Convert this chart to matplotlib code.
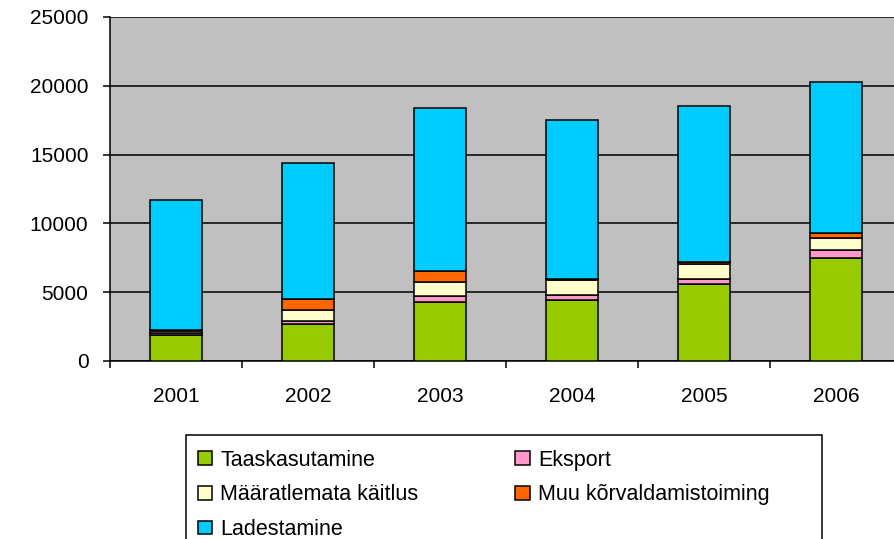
import numpy as np
import matplotlib
matplotlib.use("Agg")
import matplotlib.pyplot as plt
from matplotlib.patches import Patch, Rectangle

plt.rcParams['font.family'] = ['Liberation Sans', 'DejaVu Sans']

years = ['2001', '2002', '2003', '2004', '2005', '2006']
series_names = ['Taaskasutamine', 'Eksport', 'Määratlemata käitlus',
                'Muu kõrvaldamistoiming', 'Ladestamine']
taaskasutamine = [1870, 2680, 4260, 4430, 5580, 7470]
eksport = [200, 240, 440, 390, 410, 590]
maaratlemata = [80, 780, 1040, 1070, 1070, 870]
muu = [100, 780, 780, 50, 140, 340]
ladestamine = [9450, 9900, 11880, 11560, 11350, 11030]
colors = ['#99CC00', '#FF99CC', '#FFFFCC', '#FF6600', '#00CCFF']

W, H = 895, 539
fig = plt.figure(figsize=(W/100, H/100), dpi=100)
ax = fig.add_axes([110/W, 1-361/H, 792/W, 344/H])
ax.set_facecolor('#C0C0C0')

x = np.arange(len(years))
bottom = np.zeros(len(years))
for vals, c in zip([taaskasutamine, eksport, maaratlemata, muu, ladestamine], colors):
    ax.bar(x, vals, width=0.4, bottom=bottom, color=c, edgecolor='black', linewidth=1.1, zorder=3)
    bottom += np.array(vals)

ax.set_ylim(0, 25000)
ax.set_xlim(-0.5, len(years) - 0.5)
ax.set_yticks(range(0, 25001, 5000))
ax.yaxis.grid(True, color='black', linewidth=1.1, zorder=0)
ax.set_axisbelow(True)
ax.set_xticks(x)
ax.set_xticklabels(years)
ax.set_xticks(np.arange(-0.5, len(years), 1), minor=True)
ax.tick_params(axis='x', which='major', length=0, pad=19, labelsize=15)
ax.tick_params(axis='x', which='minor', length=5, width=1.1, direction='out')
ax.tick_params(axis='y', length=5, width=1.1, labelsize=15, pad=10.5)
for s in ['top', 'right']:
    ax.spines[s].set_visible(False)
for s in ['left', 'bottom']:
    ax.spines[s].set_linewidth(1.1)

# legend box (cut off by the bottom of the picture, as in the original)
fig.patches.append(Rectangle((186/W, -10/H), 636/W, (H - 435 + 10)/H,
                             transform=fig.transFigure, facecolor='white',
                             edgecolor='black', linewidth=1.1, zorder=1))

handles = [Patch(facecolor=c, edgecolor='black', linewidth=1.1) for c in colors]
order = [0, 2, 4, 1, 3]
leg = fig.legend([handles[i] for i in order], [series_names[i] for i in order],
                 ncol=2, loc='upper left', bbox_to_anchor=(190/W, 1-442/H),
                 frameon=False, fontsize=15.5,
                 handlelength=0.66, handleheight=0.6, handletextpad=0.4,
                 columnspacing=4.5, labelspacing=0.64, borderpad=0.35,
                 borderaxespad=0)
leg.set_zorder(2)

fig.savefig('out.png', dpi=100)
